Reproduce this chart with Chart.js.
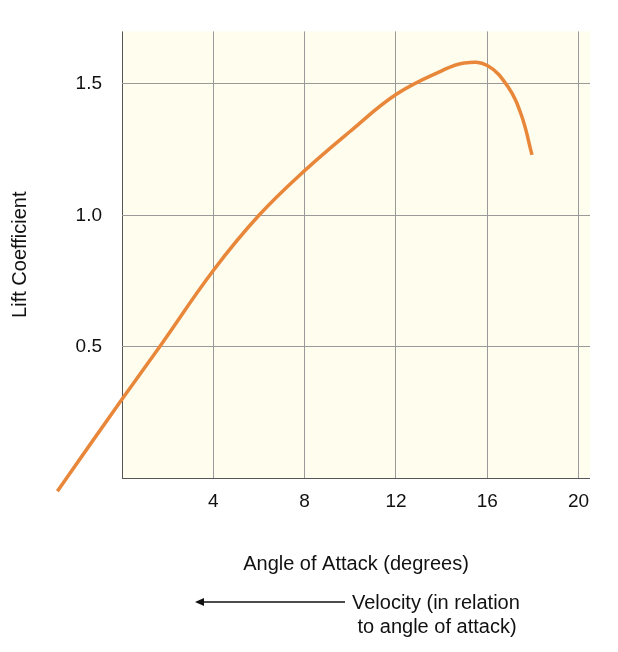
<!DOCTYPE html>
<html>
<head>
<meta charset="utf-8">
<script src="https://cdn.jsdelivr.net/npm/chart.js@4/dist/chart.umd.min.js"></script>
<style>
  body { margin: 0; background: #fff; font-family: "Liberation Sans", Arial, sans-serif; }
  #wrap { position: relative; width: 618px; height: 652px; }
  #note { position: absolute; left: 352px; top: 590px; font-size: 20px; line-height: 24px; color: #111; }
  #arrow { position: absolute; left: 195px; top: 592px; }
</style>
</head>
<body>
<div id="wrap">
  <canvas id="c" width="618" height="652"></canvas>
  <svg id="arrow" width="152" height="20">
    <line x1="6" y1="10" x2="150" y2="10" stroke="#111" stroke-width="1.5"/>
    <polygon points="0,10 9,6 9,14" fill="#111"/>
  </svg>
  <div id="note">Velocity (in relation<br>&nbsp;to angle of attack)</div>
</div>
<script>
// ===== DATA =====
const angles = [-2.83, 0, 1.65, 4, 6, 8, 10, 12, 14, 15, 16, 16.9, 17.5, 17.96];
const lift   = [-0.05, 0.30, 0.50, 0.79, 1.0, 1.17, 1.32, 1.46, 1.55, 1.58, 1.57, 1.49, 1.38, 1.23];
const xTicks = [4, 8, 12, 16, 20];
const yTicks = [0.5, 1.0, 1.5];

const bgPlugin = {
  id: 'bg',
  beforeDraw(chart) {
    const { ctx, chartArea: a } = chart;
    ctx.save();
    ctx.fillStyle = '#fefdee';
    ctx.fillRect(a.left, a.top, a.right - a.left, a.bottom - a.top);
    ctx.restore();
  }
};

new Chart(document.getElementById('c'), {
  type: 'line',
  data: {
    datasets: [{
      data: angles.map((x, i) => ({ x, y: lift[i] })),
      borderColor: '#e8873a',
      borderWidth: 3.5,
      pointRadius: 0,
      tension: 0.4,
      clip: false,
      fill: false
    }]
  },
  plugins: [bgPlugin],
  options: {
    responsive: false,
    animation: false,
    layout: { padding: { top: 25, right: 28, bottom: 72, left: 4 } },
    plugins: { legend: { display: false }, tooltip: { enabled: false } },
    scales: {
      x: {
        type: 'linear', min: 0, max: 20.5,
        afterBuildTicks: s => { s.ticks = [0, ...xTicks].map(v => ({ value: v })); },
        afterFit: s => { s.height = 102; },
        grid: { color: ctx => ctx.tick.value === 0 ? '#555' : '#999', lineWidth: 1, drawTicks: false },
        border: { display: false },
        ticks: { color: '#111', font: { size: 19, family: 'Liberation Sans' }, padding: 12,
                 callback: v => v === 0 ? '' : v },
        title: { display: true, text: 'Angle of Attack (degrees)', color: '#111',
                 font: { size: 20, family: 'Liberation Sans' }, padding: { top: 2 } }
      },
      y: {
        type: 'linear', min: 0, max: 1.7,
        afterBuildTicks: s => { s.ticks = [0, ...yTicks].map(v => ({ value: v })); },
        afterFit: s => { s.width = 118; },
        grid: { color: ctx => ctx.tick.value === 0 ? '#555' : '#999', lineWidth: 1, drawTicks: false },
        border: { display: false },
        ticks: { color: '#111', font: { size: 19, family: 'Liberation Sans' }, padding: 20,
                 callback: v => v === 0 ? '' : v.toFixed(1) },
        title: { display: true, text: 'Lift Coefficient', color: '#111',
                 font: { size: 20, family: 'Liberation Sans' }, padding: { bottom: 0 } }
      }
    }
  }
});
</script>
</body>
</html>
